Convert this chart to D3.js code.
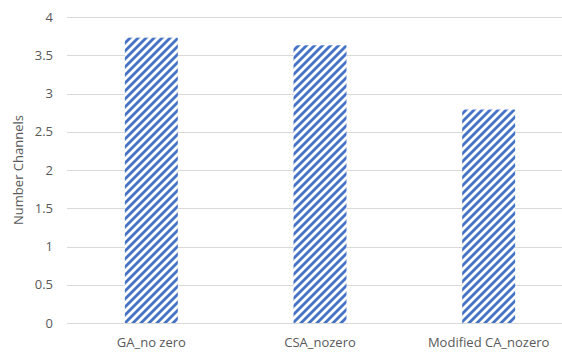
<!DOCTYPE html>
<html><head><meta charset="utf-8">
<script src="https://cdn.jsdelivr.net/npm/d3@7"></script>
<style>html,body{margin:0;padding:0;background:#fff;} text{font-family:"Open Sans","Liberation Sans",sans-serif;fill:#595959;}</style>
</head><body><svg id="c" width="562" height="352"></svg>
<script>
const categories = ["GA_no zero", "CSA_nozero", "Modified CA_nozero"];
const values = [3.73, 3.63, 2.79];
const yTicks = [0, 0.5, 1, 1.5, 2, 2.5, 3, 3.5, 4];
const yLabel = "Number Channels";

(function () {
const svg = d3.select("#c");
const mLeft = 67, mRight = 573, mTop = 17, mBottom = 323;
const x = d3.scaleBand().domain(categories).range([mLeft, mRight]).paddingInner(0.686).paddingOuter(0.343);
const y = d3.scaleLinear().domain([0, 4]).range([mBottom, mTop]);

const defs = svg.append("defs");
const pat = defs.append("pattern").attr("id", "hatch").attr("patternUnits", "userSpaceOnUse")
  .attr("width", 8).attr("height", 8);
pat.append("rect").attr("width", 8).attr("height", 8).attr("fill", "#fff");
pat.append("path").attr("d", "M-2,2 L2,-2 M0,8 L8,0 M6,10 L10,6")
  .attr("stroke", "#4472C4").attr("stroke-width", 2.8);

svg.append("g").selectAll("line").data(yTicks).join("line")
  .attr("x1", mLeft).attr("x2", 562)
  .attr("y1", d => Math.round(y(d)) + 0.5).attr("y2", d => Math.round(y(d)) + 0.5)
  .attr("stroke", "#D9D9D9").attr("stroke-width", 1);

svg.append("g").selectAll("rect").data(values).join("rect")
  .attr("x", (d, i) => x(categories[i]))
  .attr("width", x.bandwidth())
  .attr("y", d => y(d))
  .attr("height", d => y(0) - y(d))
  .attr("fill", "url(#hatch)");

svg.append("g").selectAll("text").data(yTicks).join("text")
  .attr("x", 53).attr("y", d => y(d)).attr("dy", "0.35em")
  .attr("text-anchor", "end").attr("font-size", 13)
  .text(d => d3.format("")(d));

svg.append("g").selectAll("text").data(categories).join("text")
  .attr("x", d => x(d) + x.bandwidth() / 2).attr("y", 342).attr("dy", "0.35em")
  .attr("text-anchor", "middle").attr("font-size", 13)
  .text(d => d);

svg.append("text").attr("transform", `translate(18,${(mTop + mBottom) / 2}) rotate(-90)`)
  .attr("text-anchor", "middle").attr("dy", "0.35em").attr("font-size", 13)
  .text(yLabel);
})();
</script></body></html>
